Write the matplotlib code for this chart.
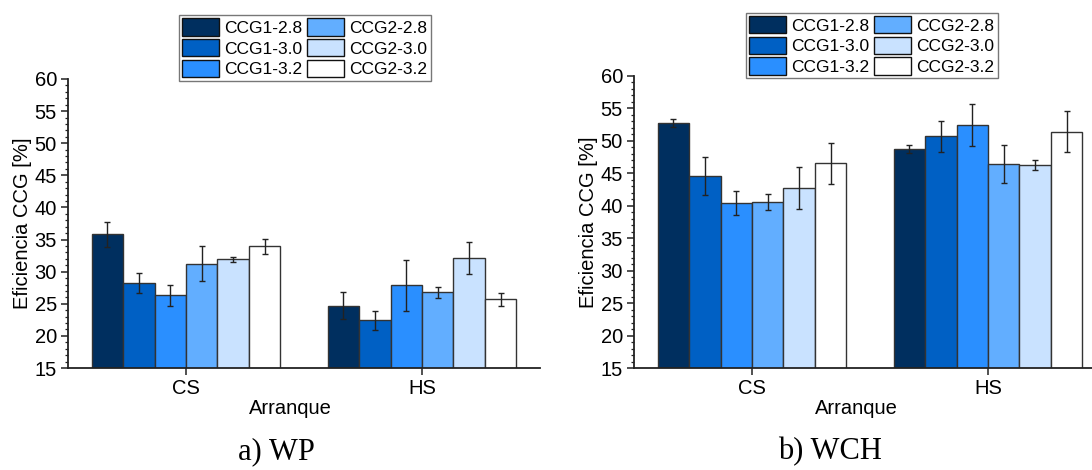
"""Eficiencia CCG por tipo de arranque, paneles WP y WCH."""

import matplotlib

matplotlib.use("Agg")

import matplotlib.pyplot as plt
import numpy as np
from matplotlib.ticker import MultipleLocator

plt.rcParams["font.family"] = ["Liberation Sans", "DejaVu Sans"]

arranques = ["CS", "HS"]
series = ["CCG1-2.8", "CCG1-3.0", "CCG1-3.2", "CCG2-2.8", "CCG2-3.0", "CCG2-3.2"]
colores = ["#002F5F", "#0060C4", "#2A8FFF", "#62AEFF", "#C9E2FF", "#FFFFFF"]

# valores por serie: [CS, HS]
wp_media = [
    [35.8, 24.7],
    [28.25, 22.4],
    [26.33, 27.86],
    [31.27, 26.77],
    [31.95, 32.1],
    [33.97, 25.73],
]
wp_error = [
    [1.95, 2.1],
    [1.5, 1.5],
    [1.67, 4.0],
    [2.65, 0.83],
    [0.4, 2.5],
    [1.15, 1.0],
]

wch_media = [
    [52.68, 48.71],
    [44.54, 50.67],
    [40.41, 52.47],
    [40.57, 46.4],
    [42.73, 46.24],
    [46.55, 51.34],
]
wch_error = [
    [0.6, 0.65],
    [2.9, 2.4],
    [1.85, 3.25],
    [1.2, 2.9],
    [3.25, 0.75],
    [3.15, 3.15],
]

W, H = 1092, 470


def dibujar_panel(fig, rect, medias, errores, leyenda_xy, titulo, titulo_x):
    ax = fig.add_axes(rect)
    x = np.arange(len(arranques))
    ancho = 0.8 / len(series)

    for i, (nombre, color) in enumerate(zip(series, colores)):
        pos = x - 0.4 + ancho * (i + 0.5)
        ax.bar(
            pos,
            medias[i],
            width=ancho,
            color=color,
            edgecolor="#333333",
            linewidth=1.0,
            label=nombre,
            zorder=2,
        )
        ax.errorbar(
            pos,
            medias[i],
            yerr=errores[i],
            fmt="none",
            ecolor="#222222",
            elinewidth=1.0,
            capsize=2.5,
            capthick=1.0,
            zorder=3,
        )

    ax.set_xlim(-0.5, 1.5)
    ax.set_ylim(15, 60)
    ax.set_xticks(x)
    ax.set_xticklabels(arranques)
    ax.yaxis.set_major_locator(MultipleLocator(5))
    ax.yaxis.set_minor_locator(MultipleLocator(1))
    ax.tick_params(axis="both", which="major", labelsize=14.5, length=5, width=1.1,
                   direction="out", color="#222222", pad=3)
    ax.tick_params(axis="y", which="minor", length=2.5, width=0.9, color="#222222")
    ax.tick_params(axis="x", which="minor", length=0)

    for lado in ("top", "right"):
        ax.spines[lado].set_visible(False)
    for lado in ("left", "bottom"):
        ax.spines[lado].set_linewidth(1.3)
        ax.spines[lado].set_color("#222222")

    ax.set_ylabel("Eficiencia CCG [%]", fontsize=14.5, labelpad=2)
    ax.set_xlabel("Arranque", fontsize=14.5, labelpad=0)
    ax.xaxis.set_label_coords(0.472, -0.107)

    leg = ax.legend(
        loc="upper left",
        bbox_to_anchor=(leyenda_xy[0] / W, 1 - leyenda_xy[1] / H),
        bbox_transform=fig.transFigure,
        ncol=2,
        fontsize=12.5,
        frameon=True,
        fancybox=False,
        borderaxespad=0,
        borderpad=0.2,
        handlelength=2.1,
        handleheight=1.15,
        handletextpad=0.3,
        labelspacing=0.18,
        columnspacing=0.3,
    )
    leg.get_frame().set_edgecolor("#555555")
    leg.get_frame().set_linewidth(1.0)
    for parche in leg.get_patches():
        parche.set_edgecolor("#111111")

    fig.text(titulo_x / W, 1 - 452 / H, titulo, ha="center", va="center",
             fontsize=22, family=["Liberation Serif", "DejaVu Serif"])
    return ax


def main():
    fig = plt.figure(figsize=(W / 100, H / 100), dpi=100)

    izq = [68 / W, 1 - 368 / H, 472 / W, (368 - 79) / H]
    der = [634 / W, 1 - 368 / H, 472 / W, (368 - 75.7) / H]

    dibujar_panel(fig, izq, wp_media, wp_error, (179, 15), "a) WP", 276)
    dibujar_panel(fig, der, wch_media, wch_error, (746, 12.7), "b) WCH", 830)

    fig.savefig("out.png", dpi=100)
    plt.close(fig)


if __name__ == "__main__":
    main()
